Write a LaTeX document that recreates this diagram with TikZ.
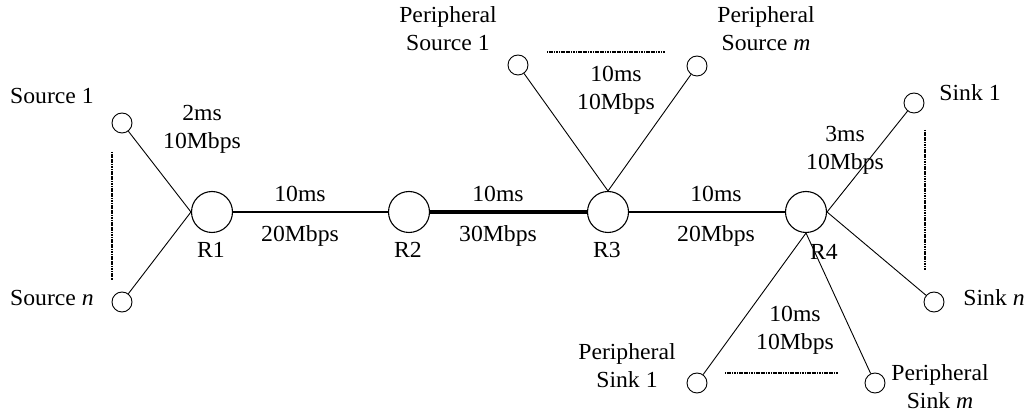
\documentclass[tikz,border=0pt]{standalone}
\usepackage{fontspec}
\setmainfont{Liberation Serif}[FakeStretch=1.03]
\begin{document}
\begin{tikzpicture}[x=1pt, y=-1pt,
  router/.style={draw, circle, line width=1.1pt, minimum size=41pt, inner sep=0pt},
  host/.style={draw, circle, line width=0.9pt, minimum size=20pt, inner sep=0pt},
  lbl/.style={align=center, inner sep=0pt, font=\fontsize{23}{28}\selectfont},
  link/.style={line width=0.9pt},
  trunk/.style={line width=2.2pt},
  fat/.style={line width=4pt},
  etc/.style={line width=1.8pt, dash pattern=on 1.2pt off 0.5pt}
]
\useasboundingbox (0,0) rectangle (1029,419);
\node[router] (R1) at (212,212) {};
\node[router] (R2) at (409,212) {};
\node[router] (R3) at (608,212) {};
\node[router] (R4) at (806,212) {};
\node[host] (src1) at (122,123) {};
\node[host] (srcn) at (122,302) {};
\node[host] (psrc1) at (518,65) {};
\node[host] (psrcm) at (697,66) {};
\node[host] (snk1) at (914,103) {};
\node[host] (snkn) at (934,302) {};
\node[host] (psnk1) at (697,383) {};
\node[host] (psnkm) at (875,383) {};
\node[lbl] (lR1) at (211,250) {R1};
\node[lbl] (lR2) at (408,250) {R2};
\node[lbl] (lR3) at (607,250) {R3};
\node[lbl] (lR4) at (824,252) {R4};
\node[lbl] (lsrc1) at (52,96) {Source 1};
\node[lbl] (lsrcn) at (52,298) {Source \textit{n}};
\node[lbl] (lpsrc1) at (448,29) {Peripheral\\Source 1};
\node[lbl] (lpsrcm) at (766,29) {Peripheral\\Source \textit{m}};
\node[lbl] (lsnk1) at (970,93) {Sink 1};
\node[lbl] (lsnkn) at (994,298) {Sink \textit{n}};
\node[lbl] (lpsnk1) at (627,366) {Peripheral\\Sink 1};
\node[lbl] (lpsnkm) at (940,387) {Peripheral\\Sink \textit{m}};
\node[lbl] (dsrc) at (202,129) {2ms\\10Mbps};
\node[lbl] (dsnk) at (845,150) {3ms\\10Mbps};
\node[lbl] (dpsrc) at (616,90) {10ms\\10Mbps};
\node[lbl] (dpsnk) at (795,330) {10ms\\10Mbps};
\node[lbl] (d12) at (300,194) {10ms};
\node[lbl] (b12) at (300,236) {20Mbps};
\node[lbl] (d23) at (498,194) {10ms};
\node[lbl] (b23) at (498,236) {30Mbps};
\node[lbl] (d34) at (716,194) {10ms};
\node[lbl] (b34) at (716,236) {20Mbps};
\draw[trunk] (R1) -- (R2);
\draw[fat] (R2) -- (R3);
\draw[trunk] (R3) -- (R4);
\draw[link] (src1) -- (R1.west);
\draw[link] (srcn) -- (R1.west);
\draw[link] (psrc1) -- (R3.north);
\draw[link] (psrcm) -- (R3.north);
\draw[link] (snk1) -- (R4.east);
\draw[link] (snkn) -- (R4.east);
\draw[link] (psnk1) -- (R4.south);
\draw[link] (psnkm) -- (R4.south);
\coordinate (g1a) at (112,152);
\coordinate (g1b) at (112,280);
\coordinate (g2a) at (547,52);
\coordinate (g2b) at (665,52);
\coordinate (g3a) at (925,130);
\coordinate (g3b) at (925,270);
\coordinate (g4a) at (725,373);
\coordinate (g4b) at (838,373);
\draw[etc] (g1a) -- (g1b);
\draw[etc] (g2a) -- (g2b);
\draw[etc] (g3a) -- (g3b);
\draw[etc] (g4a) -- (g4b);
\end{tikzpicture}
\end{document}
